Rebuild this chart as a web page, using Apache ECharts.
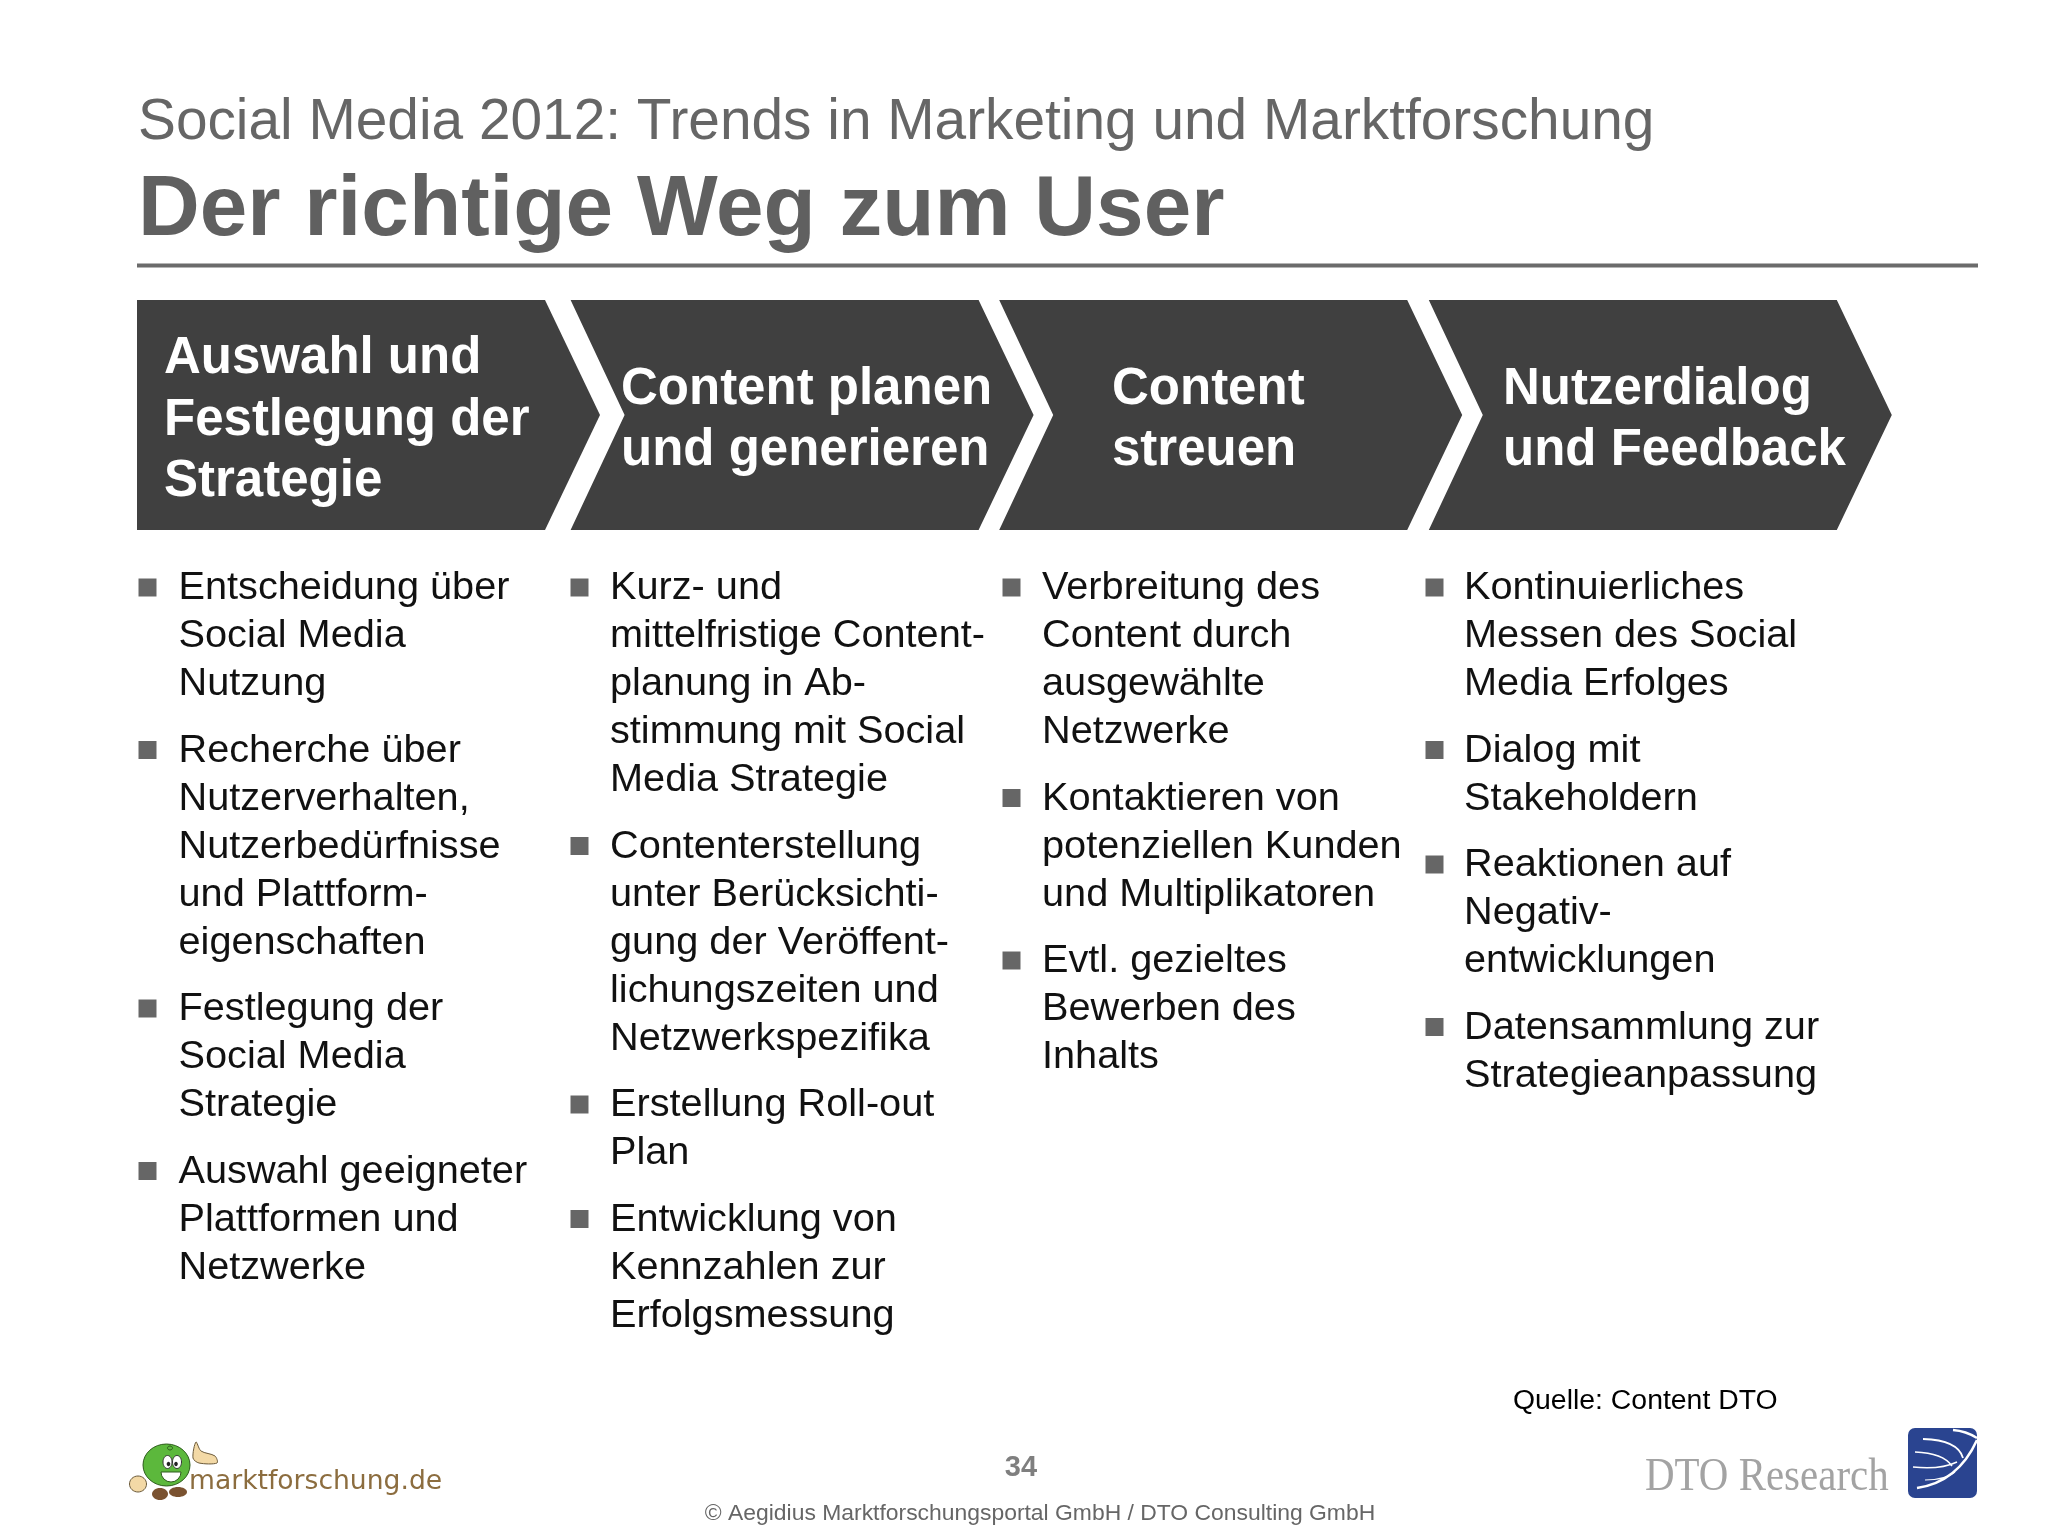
<!DOCTYPE html>
<html>
<head>
    <meta charset="UTF-8">
    <title>Der richtige Weg zum User</title>
    <script src="https://cdn.jsdelivr.net/npm/echarts@6/dist/echarts.min.js"></script>
    <style>
        *{margin:0;padding:0;}
        body,html{height:100%;width:100%;background:#fff;}
        #main{width:2048px;height:1536px;}
    </style>
</head>
<body>
<div id="main"></div>
<script>
    var slideKicker = 'Social Media 2012: Trends in Marketing und Marktforschung';
    var slideTitle = 'Der richtige Weg zum User';
    var sourceNote = 'Quelle: Content DTO';
    var pageNumber = '34';
    var copyright = '© Aegidius Marktforschungsportal GmbH / DTO Consulting GmbH';
    var logoLeftName = 'marktforschung.de';
    var logoRightName = 'DTO Research';

    var stepTitles = [
        'Auswahl und\nFestlegung der\nStrategie',
        'Content planen\nund generieren',
        'Content\nstreuen',
        'Nutzerdialog\nund Feedback'
    ];

    // one list per column, each bullet is a list of its printed lines
    var step1Bullets = [
        ['Entscheidung über', 'Social Media', 'Nutzung'],
        ['Recherche über', 'Nutzerverhalten,', 'Nutzerbedürfnisse', 'und Plattform-', 'eigenschaften'],
        ['Festlegung der', 'Social Media', 'Strategie'],
        ['Auswahl geeigneter', 'Plattformen und', 'Netzwerke']
    ];
    var step2Bullets = [
        ['Kurz- und', 'mittelfristige Content-', 'planung in Ab-', 'stimmung mit Social', 'Media Strategie'],
        ['Contenterstellung', 'unter Berücksichti-', 'gung der Veröffent-', 'lichungszeiten und', 'Netzwerkspezifika'],
        ['Erstellung Roll-out', 'Plan'],
        ['Entwicklung von', 'Kennzahlen zur', 'Erfolgsmessung']
    ];
    var step3Bullets = [
        ['Verbreitung des', 'Content durch', 'ausgewählte', 'Netzwerke'],
        ['Kontaktieren von', 'potenziellen Kunden', 'und Multiplikatoren'],
        ['Evtl. gezieltes', 'Bewerben des', 'Inhalts']
    ];
    var step4Bullets = [
        ['Kontinuierliches', 'Messen des Social', 'Media Erfolges'],
        ['Dialog mit', 'Stakeholdern'],
        ['Reaktionen auf', 'Negativ-', 'entwicklungen'],
        ['Datensammlung zur', 'Strategieanpassung']
    ];
    var allBullets = [step1Bullets, step2Bullets, step3Bullets, step4Bullets];

    // layout
    var FONT = '"Liberation Sans", Arial, sans-serif';
    var chevronNudge = [0, 3, 1, 0];
    var labelX = [164, 621, 1112, 1503];
    var squareX = [138.5, 570.5, 1002.5, 1425.5];
    var textX = [178.5, 610, 1042, 1464];
    var firstLineY = 588.5, lineStep = 48, paraStep = 66.5;

    var graphics = [];

    function addText(x, y, text, size, color, bold, family, align, scaleX) {
        graphics.push({
            type: 'text', x: x, y: y, scaleX: scaleX || 1,
            style: {
                text: text, fill: color,
                font: (bold ? 'bold ' : '') + size + 'px ' + (family || FONT),
                textAlign: align || 'left', textVerticalAlign: 'middle'
            }
        });
    }

    addText(138, 123, slideKicker, 56.8, '#666666');
    addText(138, 211, slideTitle, 85.5, '#606060', true);
    graphics.push({type: 'rect', shape: {x: 137, y: 263.5, width: 1841, height: 4}, style: {fill: '#6b6b6b'}});

    allBullets.forEach(function (bullets, col) {
        var y = firstLineY;
        bullets.forEach(function (lines) {
            graphics.push({type: 'rect', shape: {x: squareX[col], y: y - 10, width: 18, height: 18}, style: {fill: '#666666'}});
            lines.forEach(function (line, n) {
                addText(textX[col], y + n * lineStep, line, 39.7, '#111111');
            });
            y += (lines.length - 1) * lineStep + paraStep;
        });
    });

    addText(1513, 1401, sourceNote, 28.4, '#000000');
    addText(1021, 1468, pageNumber, 29, '#7f7f7f', true, null, 'center');
    addText(1040, 1514, copyright, 22.9, '#666666', false, null, 'center');

    // marktforschung.de logo
    function ell(cx, cy, rx, ry, fill, stroke) {
        graphics.push({type: 'ellipse', shape: {cx: cx, cy: cy, rx: rx, ry: ry},
            style: {fill: fill, stroke: stroke || null, lineWidth: stroke ? 1 : 0}});
    }
    graphics.push({type: 'polygon',
        shape: {points: [[193, 1458], [196, 1442], [201, 1451], [215, 1456], [217, 1463], [199, 1463]], smooth: 0.3},
        style: {fill: '#f3d9a6', stroke: '#6b5a3a', lineWidth: 1}});
    ell(138, 1484, 8.5, 8, '#f3d9a6', '#6b5a3a');
    ell(160, 1494, 8, 6, '#7a5230');
    ell(178, 1492, 9, 5, '#7a5230');
    ell(166.5, 1465, 23.5, 21, '#5cb83c', '#2f5d1e');
    ell(170, 1448, 2.5, 2, '#5cb83c', '#2f5d1e');
    ell(167.5, 1462, 4.5, 6.5, '#ffffff', '#333333');
    ell(177, 1462, 4.5, 6.5, '#ffffff', '#333333');
    ell(168.5, 1464, 1.8, 2.2, '#222222');
    ell(176, 1464, 1.8, 2.2, '#222222');
    graphics.push({type: 'sector', shape: {cx: 171, cy: 1472, r: 10, r0: 0, startAngle: 0, endAngle: Math.PI},
        style: {fill: '#ffffff', stroke: '#2f5d1e', lineWidth: 1}});
    addText(189, 1482, logoLeftName, 26.6, '#8c6d3f', false, '"DejaVu Sans", sans-serif');

    // DTO logo
    addText(1645, 1478, logoRightName, 46, '#a3a3a3', false, '"Liberation Serif", serif', 'left', 0.89);
    graphics.push({type: 'rect', shape: {x: 1908, y: 1428, width: 69, height: 70, r: 7}, style: {fill: '#2a4490'}});
    [
        [1953, 1430, 1977, 1438, 1966, 1431, 2.5],
        [1923, 1439, 1963, 1458, 1958, 1440, 1.8],
        [1915, 1452, 1952, 1466, 1943, 1453, 1.5],
        [1913, 1467, 1957, 1462, 1940, 1470, 1.5],
        [1917, 1488, 1977, 1440, 1958, 1482, 2.5],
        [1925, 1480, 1955, 1472, 1945, 1480, 1.2]
    ].forEach(function (p) {
        graphics.push({type: 'bezierCurve',
            shape: {x1: p[0], y1: p[1], x2: p[2], y2: p[3], cpx1: p[4], cpy1: p[5]},
            style: {stroke: '#ffffff', lineWidth: p[6], fill: null}});
    });

    function renderStep(params, api) {
        var i = api.value(0);
        var band = api.size([1, 0])[0];
        var left = api.coord([i, 1])[0] - band / 2 + chevronNudge[i];
        var top = api.coord([i, 1])[1];
        var bottom = api.coord([i, 0])[1];
        var mid = (top + bottom) / 2;
        var right = left + 408;
        var tip = left + 463;
        var points = i === 0
            ? [[left, top], [right, top], [tip, mid], [right, bottom], [left, bottom]]
            : [[left, top], [right, top], [tip, mid], [right, bottom], [left, bottom], [left + 54, mid]];
        return {
            type: 'group',
            children: [
                {type: 'polygon', shape: {points: points}, style: {fill: '#404040'}},
                {type: 'text', x: labelX[i], y: mid + 5.5, style: {
                    text: stepTitles[i], fill: '#ffffff',
                    font: 'bold 51px ' + FONT, lineHeight: 61.5,
                    textAlign: 'left', textVerticalAlign: 'middle'
                }}
            ]
        };
    }

    var myChart = echarts.init(document.getElementById('main'));
    myChart.setOption({
        animation: false,
        backgroundColor: '#ffffff',
        grid: {left: 137, top: 300, width: 1722.4, height: 230},
        xAxis: {type: 'category', data: stepTitles, show: false},
        yAxis: {type: 'value', min: 0, max: 1, show: false},
        graphic: graphics,
        series: [{
            type: 'custom',
            coordinateSystem: 'cartesian2d',
            renderItem: renderStep,
            data: stepTitles.map(function (t, i) { return [i, 1]; })
        }]
    });
</script>
</body>
</html>
